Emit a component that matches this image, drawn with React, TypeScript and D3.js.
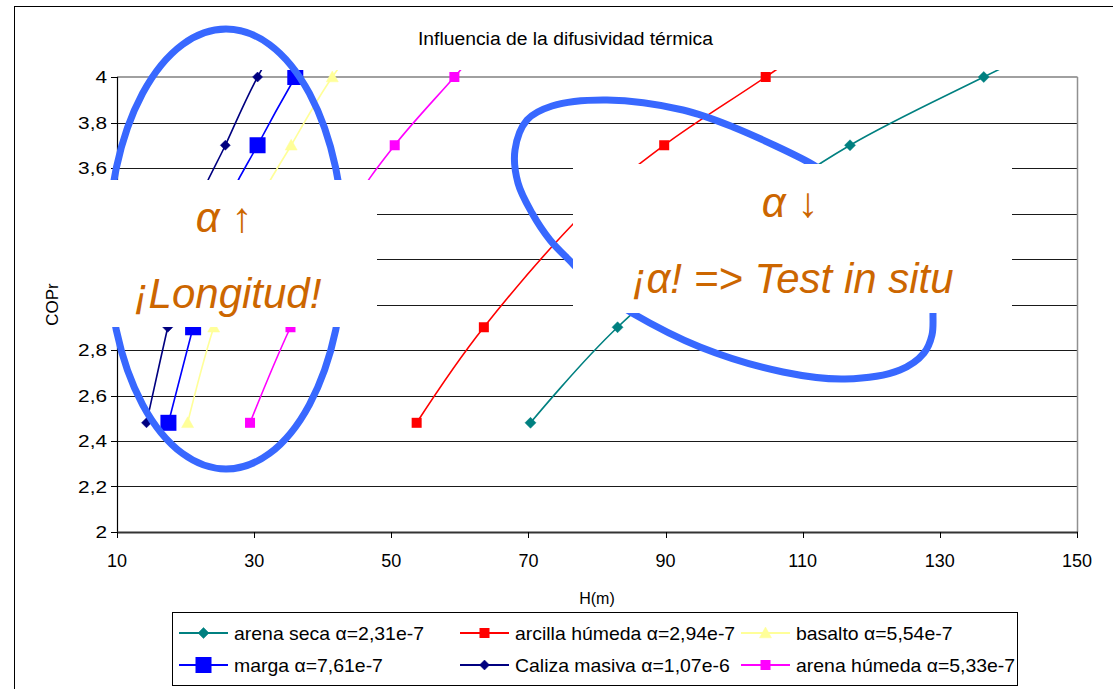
import React from 'react';
import * as d3 from 'd3';

// ---------- data ----------
const coprLevels = [2.48, 2.9, 3.4, 3.7, 4.0, 4.3];
const hArenaSeca = [70.3, 83.0, 102.5, 116.9, 136.4, 157];
const hArcillaHumeda = [53.7, 63.5, 78.0, 89.8, 104.6, 119];
const hBasalto = [20.3, 24.1, 29.9, 35.4, 41.4, 49];
const hMarga = [17.5, 21.1, 25.5, 30.5, 36.0, 42];
const hCalizaMasiva = [14.3, 17.4, 21.3, 25.8, 30.5, 36.5];
const hArenaHumeda = [29.4, 35.3, 43.6, 50.5, 59.2, 68];

const seriesNames = [
  'arena seca α=2,31e-7',
  'arcilla húmeda α=2,94e-7',
  'basalto α=5,54e-7',
  'marga α=7,61e-7',
  'Caliza masiva α=1,07e-6',
  'arena húmeda α=5,33e-7',
];
const seriesValues = [hArenaSeca, hArcillaHumeda, hBasalto, hMarga, hCalizaMasiva, hArenaHumeda];
const seriesColors = ['#008080', '#ff0000', '#ffff99', '#0000ff', '#000080', '#ff00ff'];
const seriesMarkers = ['diamond', 'square', 'triangle', 'square', 'diamond', 'square'];
const seriesMarkerSizes = [11, 10, 12, 16, 10, 10];

const xTicks = [10, 30, 50, 70, 90, 110, 130, 150];
const yTicks = [2, 2.2, 2.4, 2.6, 2.8, 3, 3.2, 3.4, 3.6, 3.8, 4];

const titleText = 'Influencia de la difusividad térmica';
const xTitle = 'H(m)';
const yTitle = 'COPr';

// ---------- layout ----------
const W = 1113;
const H = 689;
const P = { left: 117, right: 1077, top: 77, bottom: 532 };
const FONT = '"Liberation Sans", Arial, Helvetica, sans-serif';
const ORANGE = '#cc6600';
const SHAPE_BLUE = '#3868ff';

const cloudTop: [number, number][] = [
  [824, 172], [812, 164], [733, 127], [683, 110], [607, 100], [552, 106], [527, 120],
  [515, 150], [518, 183], [532, 213], [550, 240], [573, 264], [586, 278],
];
const cloudBottom: [number, number][] = [
  [620, 305], [632, 313], [700, 347], [783, 372], [845, 379], [900, 370],
  [924, 353], [932, 335], [933, 313], [933, 298],
];

function Marker({ shape, size, color, cx, cy }: any) {
  const s = size / 2;
  if (shape === 'diamond') {
    return (
      <polygon
        points={`${cx},${cy - s} ${cx + s},${cy} ${cx},${cy + s} ${cx - s},${cy}`}
        fill={color}
        stroke={color}
        strokeWidth={0.5}
      />
    );
  }
  if (shape === 'triangle') {
    return (
      <polygon
        points={`${cx},${cy - s} ${cx + s},${cy + s * 0.8} ${cx - s},${cy + s * 0.8}`}
        fill={color}
        stroke={color}
        strokeWidth={0.5}
      />
    );
  }
  return <rect x={cx - s} y={cy - s} width={size} height={size} fill={color} />;
}

const fmt = (v: number) => String(Math.round(v * 10) / 10).replace('.', ',');

export default function App() {
  const x = d3.scaleLinear().domain([10, 150]).range([P.left, P.right]);
  const y = d3.scaleLinear().domain([2, 4]).range([P.bottom, P.top]);
  const line = d3
    .line<[number, number]>()
    .x((d) => x(d[0]))
    .y((d) => y(d[1]))
    .curve(d3.curveCatmullRom.alpha(0));
  const pxLine = d3
    .line<[number, number]>()
    .x((d) => d[0])
    .y((d) => d[1])
    .curve(d3.curveCatmullRom.alpha(0.5));

  const ellipse = { cx: 226, cy: 249, rx: 118, ry: 220 };

  const legendCols = [179, 460, 741];
  const legendRows = [633, 665];

  return (
    <svg
      width={W}
      height={H}
      style={{ position: 'absolute', left: 0, top: 0, background: '#fff' }}
      fontFamily={FONT}
    >
      <defs>
        <clipPath id="plotClip">
          <rect x={P.left} y={70} width={P.right - P.left} height={P.bottom - 70} />
        </clipPath>
      </defs>
      <rect x={0} y={0} width={W} height={H} fill="#fff" />
      {/* chart area border */}
      <rect x={14.5} y={6.5} width={W + 20} height={H + 20} fill="none" stroke="#000" strokeWidth={1} />

      {/* title */}
      <text x={418} y={45} fontSize={18} textLength={295} lengthAdjust="spacingAndGlyphs" fill="#000">
        {titleText}
      </text>

      {/* gridlines */}
      {yTicks.map((t) => (
        <line key={'g' + t} x1={P.left} x2={P.right} y1={Math.round(y(t)) + 0.5} y2={Math.round(y(t)) + 0.5} stroke="#1a1a1a" strokeWidth={1} />
      ))}
      {/* plot border top/right */}
      <line x1={P.left} x2={P.right + 0.5} y1={P.top} y2={P.top} stroke="#a0a0a0" strokeWidth={2} />
      <line x1={P.right + 0.5} x2={P.right + 0.5} y1={P.top} y2={P.bottom} stroke="#909090" strokeWidth={1.5} />

      {/* axes */}
      <line x1={P.left + 0.5} x2={P.left + 0.5} y1={P.top} y2={P.bottom} stroke="#000" strokeWidth={1.2} />
      <line x1={P.left} x2={P.right + 1} y1={P.bottom + 0.5} y2={P.bottom + 0.5} stroke="#333" strokeWidth={1.8} />
      {yTicks.map((t) => (
        <g key={'yt' + t}>
          <line x1={P.left - 6} x2={P.left} y1={Math.round(y(t)) + 0.5} y2={Math.round(y(t)) + 0.5} stroke="#000" strokeWidth={1} />
          <text
            transform={`translate(${P.left - 10},${y(t) + 6}) scale(1.3,1)`}
            textAnchor="end"
            fontSize={16}
            fill="#000"
          >
            {fmt(t)}
          </text>
        </g>
      ))}
      {xTicks.map((t) => (
        <g key={'xt' + t}>
          <line x1={Math.round(x(t)) + 0.5} x2={Math.round(x(t)) + 0.5} y1={P.bottom} y2={P.bottom + 6} stroke="#000" strokeWidth={1} />
          <text x={x(t)} y={567} textAnchor="middle" fontSize={18} fill="#000">
            {fmt(t)}
          </text>
        </g>
      ))}
      <text x={(P.left + P.right) / 2} y={604} textAnchor="middle" fontSize={16} fill="#000">
        {xTitle}
      </text>
      <text
        transform={`translate(58,${(P.top + P.bottom) / 2}) rotate(-90)`}
        textAnchor="middle"
        fontSize={17}
        fill="#000"
      >
        {yTitle}
      </text>

      {/* series */}
      <g clipPath="url(#plotClip)">
        {seriesValues.map((vals, i) => {
          const pts = vals.map((v, j) => [v, coprLevels[j]] as [number, number]);
          return (
            <path key={'s' + i} d={line(pts) || ''} fill="none" stroke={seriesColors[i]} strokeWidth={1.6} />
          );
        })}
        {seriesValues.map((vals, i) =>
          vals.map((v, j) => (
            <Marker
              key={'m' + i + '-' + j}
              shape={seriesMarkers[i]}
              size={seriesMarkerSizes[i]}
              color={seriesColors[i]}
              cx={x(v)}
              cy={y(coprLevels[j])}
            />
          ))
        )}
      </g>

      {/* legend */}
      <rect x={172.5} y={612.5} width={845} height={73} fill="#fff" stroke="#000" strokeWidth={1} />
      {seriesNames.map((name, i) => {
        const cx = legendCols[i % 3];
        const cy = legendRows[Math.floor(i / 3)];
        return (
          <g key={'l' + i}>
            <line x1={cx} x2={cx + 49} y1={cy} y2={cy} stroke={seriesColors[i]} strokeWidth={2} />
            <Marker
              shape={seriesMarkers[i]}
              size={seriesMarkerSizes[i]}
              color={seriesColors[i]}
              cx={cx + 24.5}
              cy={cy}
            />
            <text
              transform={`translate(${cx + 55},${cy + 6.5}) scale(1.08,1)`}
              fontSize={18}
              fill="#000"
            >
              {name}
            </text>
          </g>
        );
      })}

      {/* annotations: ellipse + white text box (left) */}
      <ellipse
        cx={ellipse.cx}
        cy={ellipse.cy}
        rx={ellipse.rx}
        ry={ellipse.ry}
        fill="none"
        stroke={SHAPE_BLUE}
        strokeWidth={7}
      />
      <rect x={70} y={180} width={307} height={147} fill="#fff" />
      <text x={224} y={232} textAnchor="middle" fontSize={42} fontStyle="italic" fill={ORANGE}>
        α ↑
      </text>
      <text x={228} y={308} textAnchor="middle" fontSize={42} fontStyle="italic" fill={ORANGE}>
        ¡Longitud!
      </text>

      {/* annotations: freeform curve + white text box (right) */}
      <path d={pxLine(cloudTop) || ''} fill="none" stroke={SHAPE_BLUE} strokeWidth={7} strokeLinecap="round" />
      <path d={pxLine(cloudBottom) || ''} fill="none" stroke={SHAPE_BLUE} strokeWidth={7} strokeLinecap="round" />
      <rect x={573} y={164} width={439} height={149} fill="#fff" />
      <text x={790} y={217} textAnchor="middle" fontSize={42} fontStyle="italic" fill={ORANGE}>
        α ↓
      </text>
      <text x={793} y={293} textAnchor="middle" fontSize={42} fontStyle="italic" fill={ORANGE}>
        ¡α! =&gt; Test in situ
      </text>
    </svg>
  );
}
